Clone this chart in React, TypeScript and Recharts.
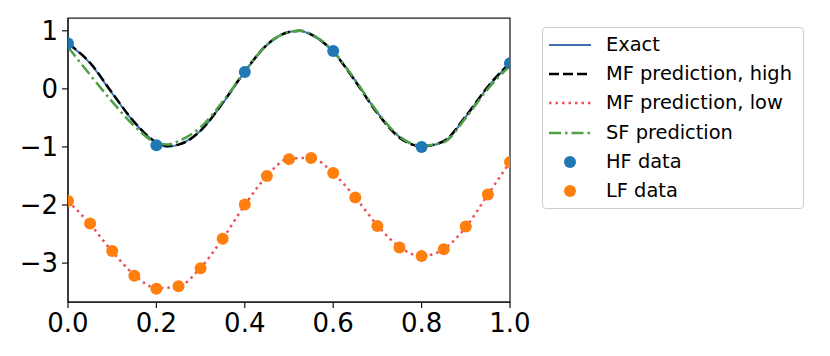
import { ComposedChart, Line, Scatter, XAxis, YAxis, ReferenceArea } from "recharts";

// curve samples
const curveX = [0, 0.05, 0.1, 0.15, 0.2, 0.225, 0.25, 0.3, 0.35, 0.4, 0.45, 0.5, 0.525, 0.55, 0.6, 0.65, 0.7, 0.75, 0.8, 0.85, 0.9, 0.95, 1.0];
const exactY = [0.78, 0.44, -0.08, -0.58, -0.93, -1.0, -0.96, -0.72, -0.25, 0.29, 0.75, 0.98, 1.0, 0.93, 0.64, 0.14, -0.41, -0.83, -0.99, -0.91, -0.48, 0.03, 0.44];
const mfHighY = [0.78, 0.45, -0.07, -0.57, -0.92, -0.98, -0.96, -0.72, -0.24, 0.3, 0.76, 0.98, 1.0, 0.94, 0.64, 0.13, -0.42, -0.84, -0.99, -0.9, -0.47, 0.04, 0.45];
const sfY = [0.72, 0.24, -0.22, -0.64, -0.93, -0.96, -0.9, -0.66, -0.22, 0.3, 0.76, 0.98, 1.0, 0.94, 0.65, 0.15, -0.4, -0.82, -0.98, -0.92, -0.5, 0.0, 0.4];

const lowX = [0, 0.05, 0.1, 0.15, 0.2, 0.25, 0.3, 0.35, 0.4, 0.45, 0.5, 0.55, 0.6, 0.65, 0.7, 0.75, 0.8, 0.85, 0.9, 0.95, 1.0];
const mfLowY = [-1.93, -2.33, -2.8, -3.2, -3.43, -3.4, -3.08, -2.58, -2.0, -1.5, -1.2, -1.19, -1.45, -1.87, -2.35, -2.72, -2.88, -2.76, -2.38, -1.82, -1.26];
const lfDataY = [-1.93, -2.32, -2.79, -3.22, -3.44, -3.4, -3.09, -2.58, -1.99, -1.5, -1.21, -1.19, -1.45, -1.87, -2.36, -2.73, -2.88, -2.76, -2.37, -1.82, -1.26];

const hfX = [0, 0.2, 0.4, 0.6, 0.8, 1.0];
const hfDataY = [0.78, -0.97, 0.29, 0.65, -1.0, 0.44];

const xTicks = [0, 0.2, 0.4, 0.6, 0.8, 1.0];
const yTicks = [1, 0, -1, -2, -3];
const yDomain = [-3.67, 1.22];

const zip = (xs: number[], ys: number[]) => xs.map((x, i) => ({ x, y: ys[i] }));

const exactData = zip(curveX, exactY);
const mfHighData = zip(curveX, mfHighY);
const sfData = zip(curveX, sfY);
const mfLowData = zip(lowX, mfLowY);
const lfData = zip(lowX, lfDataY);
const hfData = zip(hfX, hfDataY);

const FONT = "'DejaVu Sans', sans-serif";
const C_EXACT = "#3f72b0";
const C_LOW = "#ec5058";
const C_SF = "#50a045";
const C_HF = "#1f77b4";
const C_LF = "#ff7f0e";
const AXIS = "#1a1a1a";

const fmtY = (v: number) => (v < 0 ? `\u2212${Math.abs(v)}` : `${v}`);

const legendItems = [
  { label: "Exact", kind: "line", color: C_EXACT, dash: undefined as string | undefined, width: 2 },
  { label: "MF prediction, high", kind: "line", color: "#000", dash: "10 4", width: 2.5 },
  { label: "MF prediction, low", kind: "line", color: C_LOW, dash: "2.5 4", width: 2.5 },
  { label: "SF prediction", kind: "line", color: C_SF, dash: "12 4 2.5 4", width: 2.5 },
  { label: "HF data", kind: "dot", color: C_HF, dash: undefined, width: 0 },
  { label: "LF data", kind: "dot", color: C_LF, dash: undefined, width: 0 },
];

function ChartLegend() {
  return (
    <div
      style={{
        position: "absolute",
        left: 542,
        top: 27,
        width: 260,
        height: 180,
        border: "1px solid #cccccc",
        borderRadius: 4,
        background: "#fff",
        fontFamily: FONT,
        fontSize: 19.4,
        color: "#000",
      }}
    >
      {legendItems.map((it, i) => (
        <div
          key={it.label}
          style={{ position: "absolute", left: 0, top: 17 + i * 29.2 - 14, height: 28, width: 258 }}
        >
          <svg width={50} height={28} style={{ position: "absolute", left: 5, top: 0 }}>
            {it.kind === "line" ? (
              <line x1={1} y1={14} x2={43} y2={14} stroke={it.color} strokeWidth={it.width} strokeDasharray={it.dash} />
            ) : (
              <circle cx={22} cy={14} r={6} fill={it.color} />
            )}
          </svg>
          <span style={{ position: "absolute", left: 63, top: 14, transform: "translateY(-50%)", whiteSpace: "nowrap", lineHeight: 1 }}>
            {it.label}
          </span>
        </div>
      ))}
    </div>
  );
}

const dot = (color: string) => (props: any) => <circle cx={props.cx} cy={props.cy} r={6} fill={color} />;

export default function App() {
  return (
    <div style={{ position: "absolute", left: 0, top: 0, width: 830, height: 356, background: "#fff" }}>
      <ComposedChart
        width={830}
        height={356}
        margin={{ top: 18, right: 320, bottom: 14, left: 8 }}
      >
        <XAxis
          dataKey="x"
          type="number"
          domain={[0, 1]}
          ticks={xTicks}
          tickFormatter={(v: number) => v.toFixed(1)}
          allowDataOverflow
          height={40}
          tickSize={6}
          tickMargin={6}
          stroke={AXIS}
          strokeWidth={1.25}
          tick={{ fill: "#000", fontSize: 26, fontFamily: FONT }}
        />
        <YAxis
          type="number"
          domain={yDomain}
          ticks={yTicks}
          tickFormatter={fmtY}
          allowDataOverflow
          width={60}
          tickSize={6}
          tickMargin={4}
          stroke={AXIS}
          strokeWidth={1.25}
          tick={{ fill: "#000", fontSize: 26, fontFamily: FONT }}
        />
        <ReferenceArea x1={0} x2={1} y1={yDomain[0]} y2={yDomain[1]} fill="none" fillOpacity={0} stroke={AXIS} strokeWidth={1.25} ifOverflow="visible" />
        <Scatter data={hfData} dataKey="y" fill={C_HF} shape={dot(C_HF)} isAnimationActive={false} />
        <Scatter data={lfData} dataKey="y" fill={C_LF} shape={dot(C_LF)} isAnimationActive={false} />
        <Line data={exactData} dataKey="y" type="monotone" stroke={C_EXACT} strokeWidth={2} dot={false} activeDot={false} isAnimationActive={false} />
        <Line data={mfHighData} dataKey="y" type="monotone" stroke="#000" strokeWidth={2.5} strokeDasharray="10 4" dot={false} activeDot={false} isAnimationActive={false} />
        <Line data={mfLowData} dataKey="y" type="monotone" stroke={C_LOW} strokeWidth={2.5} strokeDasharray="2.5 4" dot={false} activeDot={false} isAnimationActive={false} />
        <Line data={sfData} dataKey="y" type="monotone" stroke={C_SF} strokeWidth={2.5} strokeDasharray="12 4 2.5 4" dot={false} activeDot={false} isAnimationActive={false} />
      </ComposedChart>
      <ChartLegend />
    </div>
  );
}
